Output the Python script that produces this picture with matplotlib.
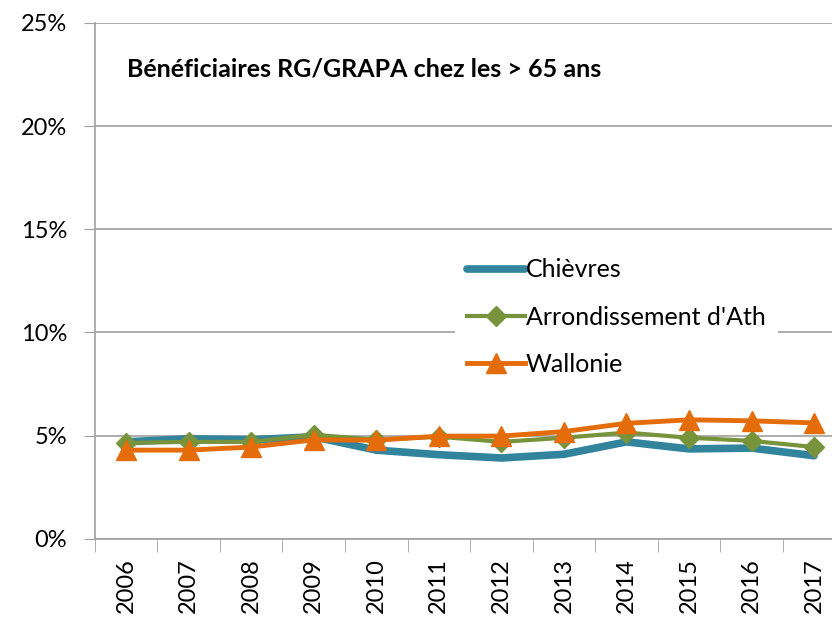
import matplotlib.pyplot as plt
import numpy as np

annees = ['2006', '2007', '2008', '2009', '2010', '2011', '2012', '2013', '2014', '2015', '2016', '2017']
chievres = [4.7, 4.85, 4.8, 4.95, 4.3, 4.08, 3.92, 4.1, 4.7, 4.36, 4.4, 4.03]
ath = [4.65, 4.7, 4.7, 5.05, 4.8, 4.95, 4.7, 4.9, 5.15, 4.9, 4.75, 4.45]
wallonie = [4.3, 4.3, 4.45, 4.8, 4.78, 4.98, 4.98, 5.2, 5.6, 5.77, 5.72, 5.62]

plt.rcParams['font.family'] = ['Lato', 'DejaVu Sans']

W, H = 832, 618
fig = plt.figure(figsize=(W / 100, H / 100), dpi=100)
ax = fig.add_axes([0.114, 0.128, 0.902, 0.835])

x = np.arange(len(annees))
ax.plot(x, chievres, color='#31849B', lw=5.5, solid_capstyle='round', label='Chièvres', zorder=3)
ax.plot(x, ath, color='#77933C', lw=3, marker='D', ms=10, label="Arrondissement d'Ath", zorder=4)
ax.plot(x, wallonie, color='#E46C0A', lw=3.5, marker='^', ms=15, label='Wallonie', zorder=5)

ax.set_xlim(-0.5, len(annees) - 0.5)
ax.set_ylim(0, 25)
ax.set_yticks([0, 5, 10, 15, 20, 25])
ax.set_yticklabels(['0%', '5%', '10%', '15%', '20%', '25%'], fontsize=17)
ax.set_xticks(x)
ax.set_xticklabels(annees, rotation=90, fontsize=17)
ax.tick_params(axis='x', length=0, pad=14)
ax.set_xticks(np.arange(-0.5, len(annees), 1), minor=True)
ax.tick_params(axis='x', which='minor', length=9, color='#A0A0A0')
ax.tick_params(axis='y', length=8, color='#A0A0A0', pad=12)

ax.grid(axis='y', color='#A0A0A0', lw=1.2, zorder=0)
ax.set_axisbelow(True)
for s in ['top', 'right']:
    ax.spines[s].set_visible(False)
for s in ['left', 'bottom']:
    ax.spines[s].set_color('#A0A0A0')
    ax.spines[s].set_linewidth(1.2)

fig.text(127 / W, 1 - 69 / H, 'Bénéficiaires RG/GRAPA chez les > 65 ans',
         fontsize=18, fontweight='bold', va='center', ha='left')

leg = ax.legend(loc='center left', bbox_to_anchor=(0.463, 0.43), frameon=True, fontsize=18,
                handlelength=2.3, handletextpad=0.04, labelspacing=0.97, borderpad=0.5)
leg.get_frame().set_edgecolor('none')
leg.get_frame().set_facecolor('white')
leg.get_frame().set_alpha(1)

fig.savefig('out.png', dpi=100)
